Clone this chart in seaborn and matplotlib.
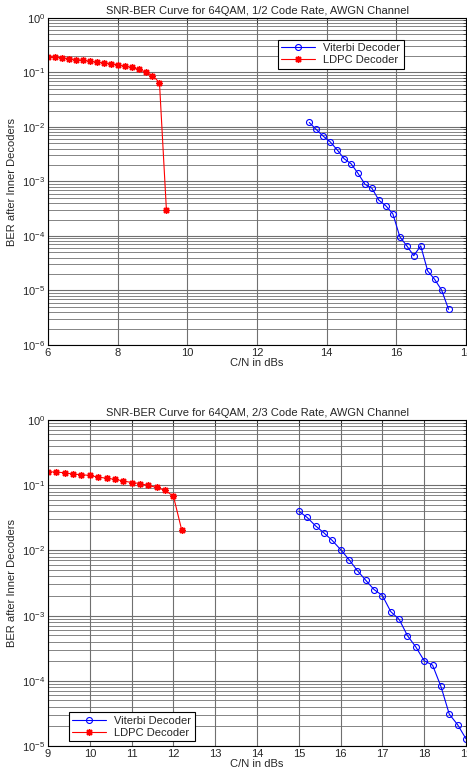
import matplotlib
matplotlib.use('Agg')
import matplotlib.pyplot as plt
import seaborn as sns
import numpy as np
from matplotlib.ticker import LogLocator, NullFormatter

sns.set_style('white')
plt.rcParams['font.family'] = ['Liberation Sans', 'DejaVu Sans']
plt.rcParams['mathtext.fontset'] = 'custom'
plt.rcParams['mathtext.rm'] = 'Liberation Sans'

# ---- data: 1/2 code rate ----
snr_ldpc_12 = [6.0, 6.2, 6.4, 6.6, 6.8, 7.0, 7.2, 7.4, 7.6, 7.8, 8.0, 8.2, 8.4, 8.6, 8.8, 9.0, 9.2, 9.4]
ber_ldpc_12 = [0.196, 0.191, 0.186, 0.178, 0.173, 0.168, 0.161, 0.155, 0.150, 0.146, 0.138, 0.131,
               0.124, 0.114, 0.102, 0.088, 0.065, 2.95e-4]
snr_vit_12 = [13.5, 13.7, 13.9, 14.1, 14.3, 14.5, 14.7, 14.9, 15.1, 15.3, 15.5, 15.7, 15.9, 16.1,
              16.3, 16.5, 16.7, 16.9, 17.1, 17.3, 17.5]
ber_vit_12 = [0.0121, 0.0090, 0.0068, 0.00535, 0.00382, 0.00262, 0.00212, 0.00141, 0.00089, 0.00075,
              4.53e-4, 3.57e-4, 2.55e-4, 9.7e-5, 6.6e-5, 4.35e-5, 6.6e-5, 2.28e-5, 1.6e-5, 1.02e-5, 4.5e-6]

# ---- data: 2/3 code rate ----
snr_ldpc_23 = [9.0, 9.2, 9.4, 9.6, 9.8, 10.0, 10.2, 10.4, 10.6, 10.8, 11.0, 11.2, 11.4, 11.6, 11.8, 12.0, 12.2]
ber_ldpc_23 = [0.161, 0.159, 0.155, 0.148, 0.145, 0.141, 0.133, 0.128, 0.123, 0.116, 0.110, 0.106,
               0.099, 0.0924, 0.0832, 0.068, 0.0204]
snr_vit_23 = [15.0, 15.2, 15.4, 15.6, 15.8, 16.0, 16.2, 16.4, 16.6, 16.8, 17.0, 17.2, 17.4, 17.6,
              17.8, 18.0, 18.2, 18.4, 18.6, 18.8, 19.0]
ber_vit_23 = [0.040, 0.032, 0.0238, 0.0186, 0.0142, 0.0103, 0.00724, 0.00491, 0.00349, 0.00251, 0.00203,
              0.00115, 8.77e-4, 4.92e-4, 3.3e-4, 2.03e-4, 1.74e-4, 8.2e-5, 3.08e-5, 2.12e-5, 1.29e-5]

fig = plt.figure(figsize=(4.67, 7.80), dpi=100)
ax1 = fig.add_axes([48 / 467, 1 - 345 / 780, 418 / 467, 327 / 780])
ax2 = fig.add_axes([48 / 467, 1 - 746 / 780, 418 / 467, 326 / 780])


def draw(ax, sv, bv, sl, bl, title, xlim, xticks, ylim):
    sns.lineplot(x=sv, y=bv, ax=ax, color='blue', marker='o', markersize=4.3, markerfacecolor='none',
                 markeredgecolor='blue', markeredgewidth=0.8, linewidth=0.8, label='Viterbi Decoder')
    sns.lineplot(x=sl, y=bl, ax=ax, color='red', marker=(8, 2, 0), markersize=5, markeredgecolor='red',
                 markeredgewidth=1.0, linewidth=0.8, label='LDPC Decoder')
    ax.set_yscale('log')
    ax.set_xlim(*xlim)
    ax.set_ylim(*ylim)
    ax.set_xticks(xticks)
    ax.yaxis.set_major_locator(LogLocator(base=10, numticks=10))
    ax.yaxis.set_minor_locator(LogLocator(base=10, subs=np.arange(2, 10), numticks=10))
    ax.yaxis.set_minor_formatter(NullFormatter())
    ax.grid(True, which='major', axis='both', color='#707070', linewidth=0.8)
    ax.grid(True, which='minor', axis='y', color='#707070', linewidth=0.6)
    ax.tick_params(direction='in', top=True, right=True, labelsize=8, length=4, width=0.6, pad=2)
    ax.tick_params(which='minor', direction='in', right=True, length=2, width=0.5)
    for s in ax.spines.values():
        s.set_color('black')
        s.set_linewidth(0.8)
    ax.set_title(title, fontsize=8, pad=3)
    ax.set_xlabel('C/N in dBs', fontsize=8, labelpad=0)
    ax.set_ylabel('BER after Inner Decoders', fontsize=8, labelpad=4)


def legend(ax, anchor):
    leg = ax.legend(loc='lower left', bbox_to_anchor=anchor, fontsize=8, frameon=True, fancybox=False,
                    framealpha=1, edgecolor='black', handlelength=3, borderpad=0.3, labelspacing=0.2,
                    borderaxespad=0)
    leg.get_frame().set_linewidth(0.8)


draw(ax1, snr_vit_12, ber_vit_12, snr_ldpc_12, ber_ldpc_12,
     'SNR-BER Curve for 64QAM, 1/2 Code Rate, AWGN Channel',
     (6, 18), [6, 8, 10, 12, 14, 16, 18], (1e-6, 1))
legend(ax1, (0.55, 0.845))
draw(ax2, snr_vit_23, ber_vit_23, snr_ldpc_23, ber_ldpc_23,
     'SNR-BER Curve for 64QAM, 2/3 Code Rate, AWGN Channel',
     (9, 19), list(range(9, 20)), (1e-5, 1))
legend(ax2, (0.05, 0.015))

fig.savefig('out.png', dpi=100)
